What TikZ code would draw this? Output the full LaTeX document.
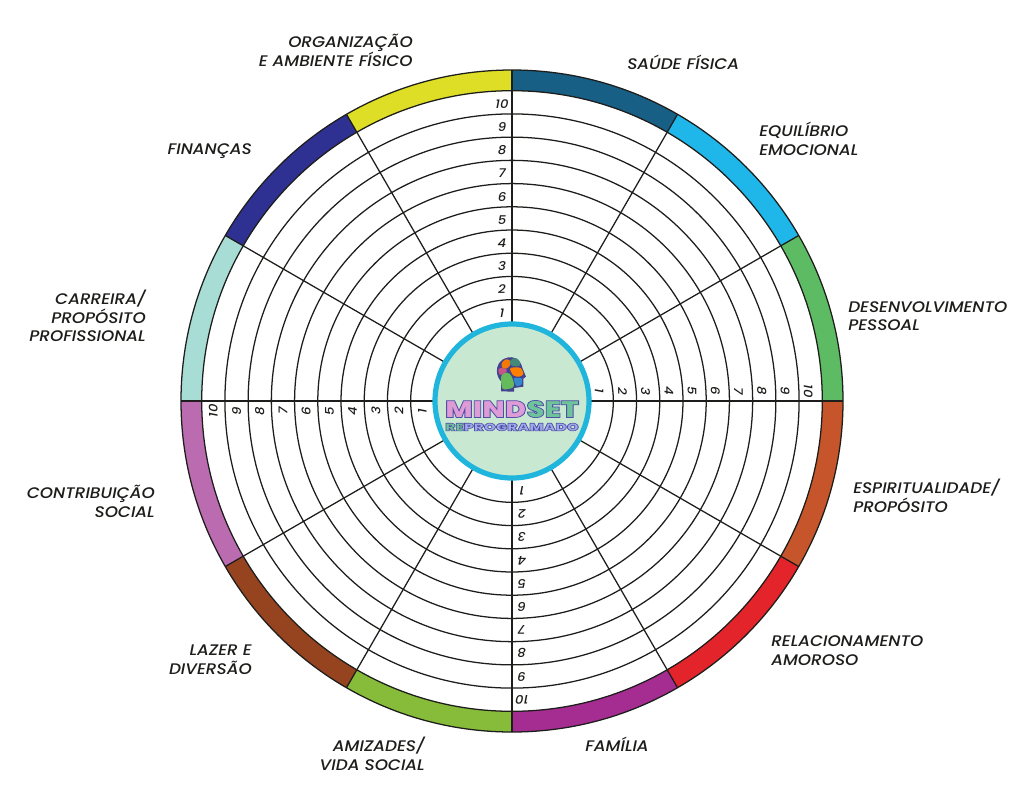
\documentclass[tikz,border=0pt]{standalone}
\usepackage{fontspec}
\setmainfont{Poppins Medium}[ItalicFont={Poppins Medium Italic},FakeStretch=1.1]
\newfontfamily\logofont{Poppins Black}
\definecolor{c1}{HTML}{175F85}\definecolor{c2}{HTML}{1FB6EA}\definecolor{c3}{HTML}{5DBB63}
\definecolor{c4}{HTML}{C6552C}\definecolor{c5}{HTML}{E3242B}\definecolor{c6}{HTML}{A52C91}
\definecolor{c7}{HTML}{86BC3A}\definecolor{c8}{HTML}{96431F}\definecolor{c9}{HTML}{BB6BB0}
\definecolor{c10}{HTML}{A8DDD6}\definecolor{c11}{HTML}{2E3192}\definecolor{c12}{HTML}{DEDE26}
\definecolor{ink}{HTML}{1D1D1B}\definecolor{ring}{HTML}{1FB5DC}\definecolor{core}{HTML}{C9E8D2}
\definecolor{logoedge}{HTML}{4F4FA8}\definecolor{logopink}{HTML}{DE9BD6}\definecolor{logogreen}{HTML}{6DC39A}\definecolor{logoblue}{HTML}{9FA8E8}
\tikzset{
 lab/.style={font=\fontsize{11.5}{14}\selectfont\itshape,text=ink,inner sep=0pt},
 labl/.style={lab,anchor=west,align=left},
 labr/.style={lab,anchor=east,align=right},
 num/.style={font=\fontsize{9}{10}\selectfont\itshape,text=ink,inner sep=0pt},
 web/.style={draw=ink,line width=0.95pt},
 logo/.style={inner sep=0pt}
}
\newcommand{\edged}[2]{\textcolor{#1}{\special{pdf:code 0.31 0.31 0.66 RG 2 Tr 0.55 w}#2\special{pdf:code 0 Tr}}}
\newcommand{\mindword}[1]{\scalebox{1.2}[0.98]{\fontsize{18.2}{18}\selectfont\logofont #1}}
\newcommand{\reword}[1]{\scalebox{1.076}[0.76]{\fontsize{10.6}{11}\selectfont\logofont #1}}
\begin{document}
\begin{tikzpicture}[x=0.75pt,y=-0.75pt]
\useasboundingbox (0,0) rectangle (1024,804);
\fill[white] (0,0) rectangle (1024,804);
\coordinate (o) at (512,401);
% coloured rim
\foreach \i in {1,...,12}{
  \pgfmathsetmacro{\a}{(\i-1)*30-90}
  \pgfmathsetmacro{\b}{\i*30-90}
  \fill[c\i] (o) ++(\a:331) arc[start angle=\a,end angle=\b,radius=331] -- ++(\b+180:20.7) arc[start angle=\b,end angle=\a,radius=310.3] -- cycle;
}
% rings
\foreach \k in {1,...,10}{ \draw[web] (o) circle[radius={78.1+\k*23.22}]; }
\draw[web] (o) circle[radius=331];
% spokes
\foreach \i in {0,...,11}{ \draw[web] (o) ++(\i*30:78) -- ++(\i*30:253); }
% scale numbers
\foreach \k in {1,...,10}{
  \pgfmathsetmacro{\r}{78.1+(\k-0.5)*23.22}
  \node[num] (nt\k) at (502,402.5-\r) {\k};
  \node[num,rotate=-90] (nr\k) at (509.5+\r,391) {\k};
  \node[num,rotate=180] (nb\k) at (522,401+\r) {\k};
  \node[num,rotate=90] (nl\k) at (512-\r,411) {\k};
}
% hub
\draw[fill=core,draw=ring,line width=3.9pt] (o) circle[radius=77];
% head logo (coordinates from a 3x crop)
\begin{scope}[shift={(490,352)},x=0.25pt,y=-0.25pt]
 \fill[logoedge!85!black] (33,118) -- (33,88) .. controls (16,70) and (16,40) .. (36,24) .. controls (60,8) and (90,14) .. (98,50) -- (108,74) -- (100,80) -- (100,104) -- (72,108) -- (72,119) -- cycle;
 \fill[orange!85!c4] plot[smooth cycle] coordinates {(36,32) (48,22) (60,26) (60,40) (48,50) (36,46)};
 \fill[c9!70!c5] plot[smooth cycle] coordinates {(25,52) (36,48) (50,52) (46,64) (30,68)};
 \fill[c1!55!c3!80!gray] plot[smooth cycle] coordinates {(62,24) (78,18) (90,30) (88,42) (70,42) (60,36)};
 \fill[orange] plot[smooth cycle] coordinates {(60,50) (74,46) (92,48) (100,66) (88,74) (70,70)};
 \fill[c3!80!c7] plot[smooth cycle] coordinates {(34,72) (52,62) (64,72) (72,96) (66,108) (38,110)};
 \fill[c2!55!logoedge] plot[smooth cycle] coordinates {(72,78) (88,78) (96,80) (94,98) (80,102) (74,92)};
\end{scope}
% wordmark
\node[logo] (mind) at (512,409) {\mindword{\edged{logopink}{MIND}\edged{logogreen}{SET}}};
\node[logo] (repro) at (512,427) {\reword{\edged{logogreen}{RE}\edged{logoblue}{PROGRAMADO}}};
% labels
\node[labr] (l12) at (413,50.5) {ORGANIZAÇÃO\\E AMBIENTE FÍSICO};
\node[labl] (l1) at (627,62.5) {SAÚDE FÍSICA};
\node[labl] (l2) at (759,139) {EQUILÍBRIO\\EMOCIONAL};
\node[labl] (l3) at (848,316) {DESENVOLVIMENTO\\PESSOAL};
\node[labl] (l4) at (853,495.5) {ESPIRITUALIDADE/\\PROPÓSITO};
\node[labl] (l5) at (771,650.5) {RELACIONAMENTO\\AMOROSO};
\node[labl] (l6) at (585,744) {FAMÍLIA};
\node[labr] (l7) at (425,754) {AMIZADES/\\VIDA SOCIAL};
\node[labr] (l8) at (252,660) {LAZER E\\DIVERSÃO};
\node[labr] (l9) at (155,501.5) {CONTRIBUIÇÃO\\SOCIAL};
\node[labr] (l10) at (146,316) {CARREIRA/\\PROPÓSITO\\PROFISSIONAL};
\node[labr] (l11) at (252,151) {FINANÇAS};
\end{tikzpicture}
\end{document}
